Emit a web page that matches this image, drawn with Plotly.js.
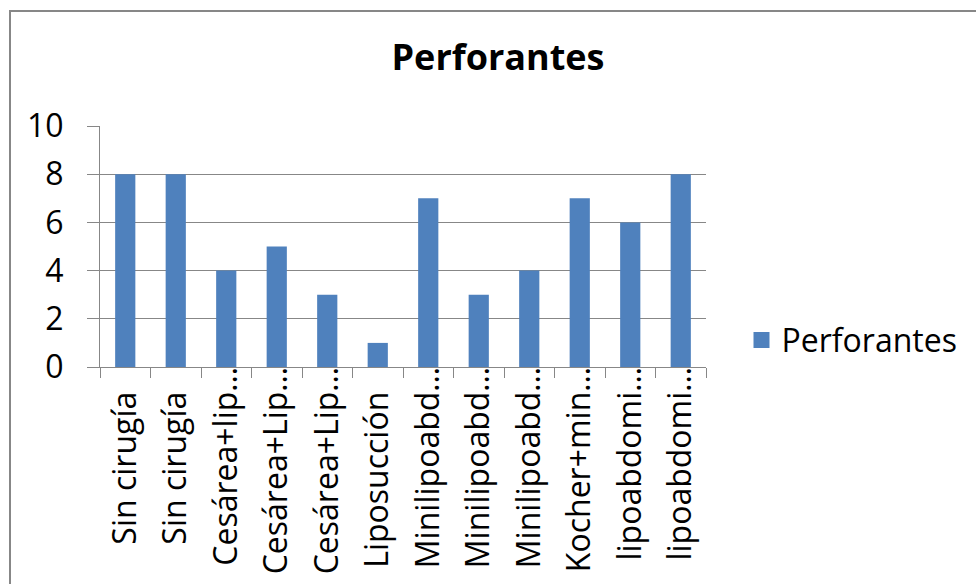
<!DOCTYPE html>
<html>
<head>
<meta charset="utf-8">
<script src="https://cdn.plot.ly/plotly-3.0.1.min.js"></script>
<style>
  html, body { margin: 0; padding: 0; background: #fff; overflow: hidden; }
  #frame { position: absolute; left: 9px; top: 10px; width: 1200px; height: 900px;
           border-left: 2px solid #878787; border-top: 2px solid #878787; }
  #chart { position: absolute; left: 0; top: 0; width: 976px; height: 584px; }
</style>
</head>
<body>
<div id="frame"></div>
<div id="chart"></div>
<script>
// Category labels as shown on the axis (long names are cut with an ellipsis)
const categories = [
  "Sin cirugía", "Sin cirugía", "Cesárea+lip…", "Cesárea+Lip…", "Cesárea+Lip…",
  "Liposucción", "Minilipoabd…", "Minilipoabd…", "Minilipoabd…",
  "Kocher+min…", "lipoabdomi…", "lipoabdomi…"
];
// Number of perforating vessels per case
const perforantes = [8, 8, 4, 5, 3, 1, 7, 3, 4, 7, 6, 8];
const seriesName = "Perforantes";
const yTickValues = [0, 2, 4, 6, 8, 10];

const FONT = "'Open Sans', sans-serif";
const GRID = "#878787";
const BLUE = "#4F81BD";

const positions = categories.map((_, i) => i);
// Cut labels let their ellipsis hang past the label edge; full labels get
// matching padding so the words themselves line up.
const tickText = categories.map(c => c.endsWith("…") ? c : c + "\u00a0\u00a0\u00a0");

const bars = {
  type: "bar",
  x: positions,
  y: perforantes,
  name: seriesName,
  marker: { color: BLUE, line: { width: 0 } },
  showlegend: false,
  hoverinfo: "y"
};

// Legend entry with a larger square swatch
const legendSwatch = {
  type: "scatter",
  mode: "markers",
  x: [null],
  y: [null],
  name: seriesName,
  marker: { symbol: "square", color: BLUE, size: 21 },
  showlegend: true,
  hoverinfo: "skip"
};

const layout = {
  width: 976,
  height: 584,
  margin: { l: 100, r: 270, t: 125.5, b: 216.5, pad: 0 },
  paper_bgcolor: "rgba(0,0,0,0)",
  plot_bgcolor: "rgba(0,0,0,0)",
  font: { family: FONT, color: "#000", size: 32 },
  bargap: 0.6,
  title: {
    text: "<b>Perforantes</b>",
    font: { family: FONT, size: 36, color: "#000" },
    xref: "container", yref: "container",
    x: 498 / 976, xanchor: "center",
    y: 1 - 57.5 / 584, yanchor: "middle"
  },
  xaxis: {
    type: "linear",
    range: [-0.5, categories.length - 0.5],
    tickmode: "array",
    tickvals: positions,
    ticktext: tickText,
    tickangle: -90,
    ticks: "",
    ticklabelstandoff: -14,
    showgrid: false,
    zeroline: false,
    showline: true,
    linecolor: GRID,
    linewidth: 1,
    tickfont: { family: FONT, size: 32, color: "#000" },
    minor: { tick0: 0.5, dtick: 1, ticks: "outside", ticklen: 10, tickcolor: GRID, tickwidth: 1, showgrid: false },
    fixedrange: true
  },
  yaxis: {
    range: [0, 10],
    tickmode: "array",
    tickvals: yTickValues,
    ticks: "outside",
    ticklen: 12,
    tickcolor: GRID,
    tickwidth: 1,
    ticklabelstandoff: 17,
    showgrid: true,
    gridcolor: GRID,
    gridwidth: 1,
    zeroline: false,
    showline: true,
    linecolor: GRID,
    linewidth: 1,
    tickfont: { family: FONT, size: 32, color: "#000" },
    fixedrange: true
  },
  legend: {
    x: (741.5 - 100) / 606,
    xanchor: "left",
    y: (367.5 - 340.5) / 242,
    yanchor: "middle",
    bgcolor: "rgba(0,0,0,0)",
    borderwidth: 0,
    font: { family: FONT, size: 32, color: "#000" }
  },
  showlegend: true
};

Plotly.newPlot("chart", [bars, legendSwatch], layout, { displayModeBar: false, staticPlot: true });
</script>
</body>
</html>
